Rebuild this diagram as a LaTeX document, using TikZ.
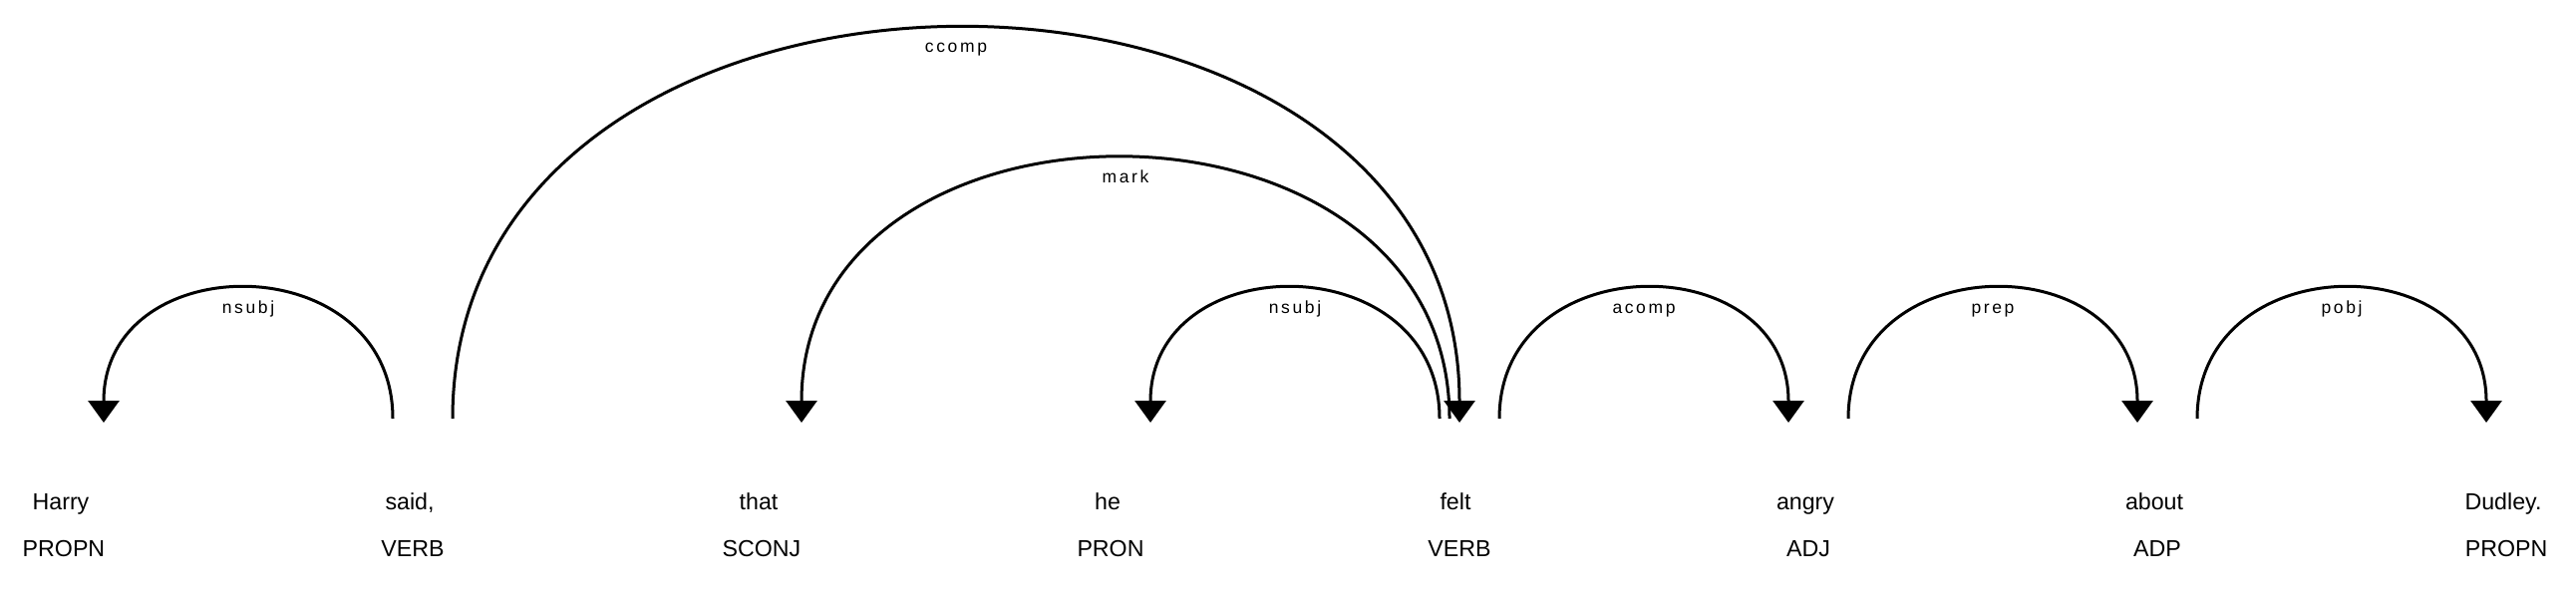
\documentclass[tikz,border=0pt]{standalone}
\usepackage{fontspec}
\setmainfont{Liberation Sans}
\newfontfamily\lblfont[LetterSpace=15]{Liberation Sans}
\usetikzlibrary{arrows.meta}
\begin{document}
\begin{tikzpicture}[x=0.5pt,y=-0.5pt,
  word/.style={anchor=base,inner sep=0pt,font=\fontsize{11.6pt}{14pt}\selectfont},
  tagw/.style={word},
  lbl/.style={anchor=base,inner sep=0pt,yshift=-12pt,font=\fontsize{8.75pt}{10pt}\lblfont},
  deparc/.style={draw,line width=1.5pt,-{Triangle[width=15.5pt,length=11pt]}},
]
\useasboundingbox (0,0) rectangle (2584,600);
% words and tags
\node[word] (w0) at (61,511) {Harry};
\node[tagw] (g0) at (64,558) {PROPN};
\node[word] (w1) at (411,511) {said,};
\node[tagw] (g1) at (414,558) {VERB};
\node[word] (w2) at (761,511) {that};
\node[tagw] (g2) at (764,558) {SCONJ};
\node[word] (w3) at (1111,511) {he};
\node[tagw] (g3) at (1114,558) {PRON};
\node[word] (w4) at (1460,511) {felt};
\node[tagw] (g4) at (1464,558) {VERB};
\node[word] (w5) at (1811,511) {angry};
\node[tagw] (g5) at (1814,558) {ADJ};
\node[word] (w6) at (2161,511) {about};
\node[tagw] (g6) at (2164,558) {ADP};
\node[word] (w7) at (2511,511) {Dudley.};
\node[tagw] (g7) at (2514,558) {PROPN};
% arc end points
\coordinate (s1) at (394,420);  \coordinate (t1) at (104,424);
\coordinate (s2) at (454,420);  \coordinate (t2) at (1464,424);
\coordinate (s3) at (1454,420); \coordinate (t3) at (804,424);
\coordinate (s4) at (1444,420); \coordinate (t4) at (1154,424);
\coordinate (s5) at (1504,420); \coordinate (t5) at (1794,424);
\coordinate (s6) at (1854,420); \coordinate (t6) at (2144,424);
\coordinate (s7) at (2204,420); \coordinate (t7) at (2494,424);
% arcs
\draw[deparc] (s1) .. controls +(0,-174) and +(0,-178) .. (t1) node[lbl,pos=0.5] (l1) {nsubj};
\draw[deparc] (s2) .. controls +(0,-522) and +(0,-526) .. (t2) node[lbl,pos=0.5,yshift=0.5pt] (l2) {ccomp};
\draw[deparc] (s3) .. controls +(0,-348) and +(0,-352) .. (t3) node[lbl,pos=0.5,yshift=0.25pt] (l3) {mark};
\draw[deparc] (s4) .. controls +(0,-174) and +(0,-178) .. (t4) node[lbl,pos=0.5] (l4) {nsubj};
\draw[deparc] (s5) .. controls +(0,-174) and +(0,-178) .. (t5) node[lbl,pos=0.5] (l5) {acomp};
\draw[deparc] (s6) .. controls +(0,-174) and +(0,-178) .. (t6) node[lbl,pos=0.5] (l6) {prep};
\draw[deparc] (s7) .. controls +(0,-174) and +(0,-178) .. (t7) node[lbl,pos=0.5] (l7) {pobj};
\end{tikzpicture}
\end{document}
